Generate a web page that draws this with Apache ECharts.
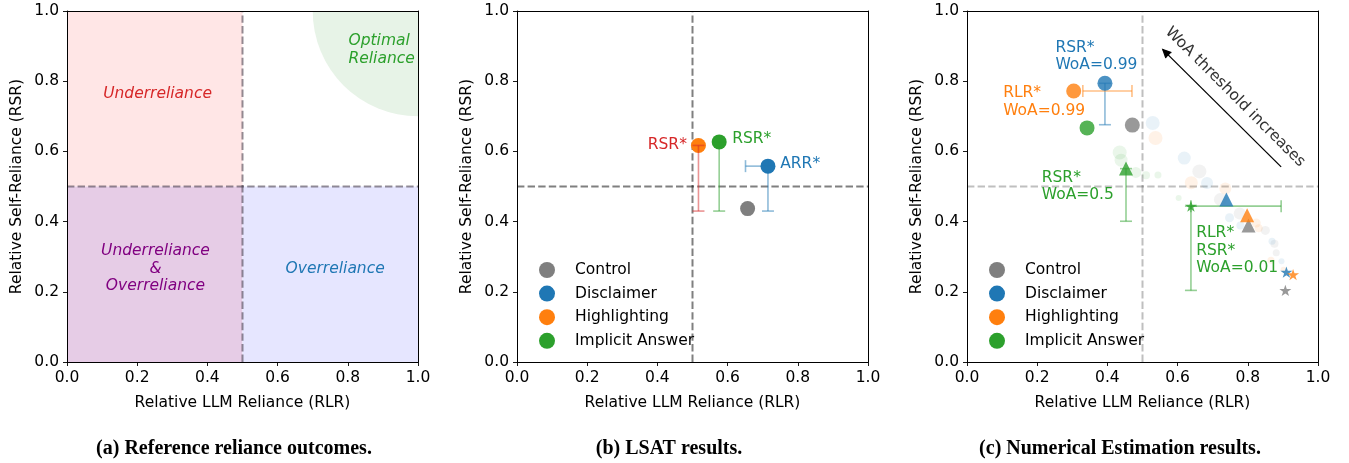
<!DOCTYPE html>
<html><head><meta charset="utf-8">
<script src="https://cdn.jsdelivr.net/npm/echarts@6/dist/echarts.min.js"></script>
<style>html,body{margin:0;padding:0;background:#fff}#c{width:1349px;height:463px}</style>
</head><body><div id="c"></div>
<script>
// ---------------- DATA ----------------
const treatments = ['Control', 'Disclaimer', 'Highlighting', 'Implicit Answer'];
const axisMin = 0, axisMax = 1, axisStep = 0.2;
const xTitle = 'Relative LLM Reliance (RLR)';
const yTitle = 'Relative Self-Reliance (RSR)';
const captions = ['(a) Reference reliance outcomes.', '(b) LSAT results.', '(c) Numerical Estimation results.'];

// (a) reference regions [x0, y0, x1, y1]
const refRegions = [[0, 0.5, 0.5, 1], [0, 0, 0.5, 0.5], [0.5, 0, 1, 0.5]];
const refOptimalCenter = [1, 1];
const refOptimalRadius = 0.3;
const refThreshold = 0.5;

// (b) LSAT results
const lsatRLR = [0.657, 0.715, 0.517, 0.576];
const lsatRSR = [0.437, 0.558, 0.617, 0.627];
const lsatErrBars = [[0.517, 0.617, 0.517, 0.430], [0.576, 0.627, 0.576, 0.430], [0.715, 0.558, 0.715, 0.430], [0.715, 0.558, 0.651, 0.558]];
const lsatErrTreatment = [2, 3, 1, 1];

// (c) Numerical estimation results
const numWoA99RLR = [0.471, 0.393, 0.304, 0.342];
const numWoA99RSR = [0.675, 0.794, 0.772, 0.667];
const numWoA50RLR = [0.802, 0.739, 0.798, 0.453];
const numWoA50RSR = [0.389, 0.463, 0.418, 0.551];
const numWoA01RLR = [0.907, 0.910, 0.929, 0.638];
const numWoA01RSR = [0.204, 0.256, 0.249, 0.444];
// other thresholds: [RLR, RSR, WoA threshold]
const numOtherControl = [[0.662, 0.543, 0.9], [0.722, 0.463, 0.8], [0.777, 0.423, 0.7], [0.850, 0.375, 0.4], [0.876, 0.337, 0.3], [0.881, 0.311, 0.2]];
const numOtherDisclaimer = [[0.529, 0.681, 0.9], [0.619, 0.581, 0.8], [0.684, 0.510, 0.7], [0.748, 0.411, 0.4], [0.779, 0.389, 0.3], [0.869, 0.344, 0.2], [0.896, 0.287, 0.1]];
const numOtherHighlighting = [[0.537, 0.638, 0.9], [0.639, 0.511, 0.8], [0.736, 0.494, 0.7], [0.824, 0.396, 0.4], [0.831, 0.381, 0.3], [0.866, 0.290, 0.2], [0.902, 0.263, 0.1]];
const numOtherImplicit = [[0.435, 0.597, 0.9], [0.439, 0.575, 0.8], [0.481, 0.540, 0.6], [0.510, 0.532, 0.3], [0.544, 0.533, 0.2], [0.603, 0.467, 0.1]];
const numErrBars = [[0.393, 0.794, 0.393, 0.676], [0.330, 0.772, 0.470, 0.772], [0.453, 0.551, 0.453, 0.401], [0.638, 0.444, 0.895, 0.444], [0.638, 0.444, 0.638, 0.204]];
const numErrTreatment = [1, 2, 3, 3, 3];
const numArrow = [[0.895, 0.556], [0.558, 0.890]];

// ---------------- STYLE ----------------
const FONT = '"DejaVu Sans", sans-serif';
const FS = 15.5;
const colors = ['#7f7f7f', '#1f77b4', '#ff7f0e', '#2ca02c'];
const rgbs = ['127,127,127', '31,119,180', '255,127,14', '44,160,44'];
const errColorsLsat = ['127,127,127', '31,119,180', '214,39,40', '44,160,44'];
const regionColors = ['#ffe6e6', '#e6cce6', '#e6e6ff'];
const gridLefts = [67, 517, 967];
const GT = 11, GW = 351, GH = 351;

// star path
function starPath() {
  let pts = [];
  for (let k = 0; k < 10; k++) {
    const r = k % 2 === 0 ? 1 : 0.382;
    const a = (90 + 36 * k) * Math.PI / 180;
    pts.push([(r * Math.cos(a)).toFixed(4), (-r * Math.sin(a)).toFixed(4)]);
  }
  return 'path://M' + pts.map(p => p[0] + ',' + p[1]).join('L') + 'Z';
}
const STAR = starPath();

const grids = gridLefts.map(l => ({left: l, top: GT, width: GW, height: GH, show: false}));
const xAxes = [], yAxes = [];
gridLefts.forEach((l, i) => {
  xAxes.push({
    type: 'value', gridIndex: i, min: axisMin, max: axisMax, interval: axisStep, z: 10,
    name: xTitle, nameLocation: 'middle', nameGap: 33,
    nameTextStyle: {fontFamily: FONT, fontSize: FS, color: '#000'},
    axisLine: {show: true, onZero: false, lineStyle: {color: '#000', width: 1}},
    axisTick: {show: true, length: 4, lineStyle: {color: '#000', width: 0.9}},
    axisLabel: {formatter: v => v.toFixed(1), fontFamily: FONT, fontSize: FS, color: '#000', margin: 8},
    splitLine: {show: false}
  });
  xAxes.push({
    type: 'value', gridIndex: i, min: axisMin, max: axisMax, position: 'top', z: 10,
    axisLine: {show: true, onZero: false, lineStyle: {color: '#000', width: 1}},
    axisTick: {show: false}, axisLabel: {show: false}, splitLine: {show: false}
  });
  yAxes.push({
    type: 'value', gridIndex: i, min: axisMin, max: axisMax, interval: axisStep, z: 10,
    name: yTitle, nameLocation: 'middle', nameGap: 42,
    nameTextStyle: {fontFamily: FONT, fontSize: FS, color: '#000'},
    axisLine: {show: true, onZero: false, lineStyle: {color: '#000', width: 1}},
    axisTick: {show: true, length: 4, lineStyle: {color: '#000', width: 0.9}},
    axisLabel: {formatter: v => v.toFixed(1), fontFamily: FONT, fontSize: FS, color: '#000', margin: 8},
    splitLine: {show: false}
  });
  yAxes.push({
    type: 'value', gridIndex: i, min: axisMin, max: axisMax, position: 'right', z: 10,
    axisLine: {show: true, onZero: false, lineStyle: {color: '#000', width: 1}},
    axisTick: {show: false}, axisLabel: {show: false}, splitLine: {show: false}
  });
});

function ax(gi) { return {xAxisIndex: 2 * gi, yAxisIndex: 2 * gi}; }

function segSeries(gi, segs, stroke, dash, z) {
  return Object.assign({
    type: 'custom', silent: true, z: z, data: segs, encode: {x: [0, 2], y: [1, 3]},
    renderItem: (params, api) => {
      const s = segs[params.dataIndex];
      const p1 = api.coord([s[0], s[1]]), p2 = api.coord([s[2], s[3]]);
      return {type: 'line', shape: {x1: p1[0], y1: p1[1], x2: p2[0], y2: p2[1]},
        style: {stroke: stroke, lineWidth: 2, lineDash: dash}};
    }
  }, ax(gi));
}

function errSeries(gi, bars, barColors, z) {
  const cap = 6;
  return Object.assign({
    type: 'custom', silent: true, z: z, data: bars, encode: {x: [0, 2], y: [1, 3]},
    renderItem: (params, api) => {
      const b = bars[params.dataIndex];
      const p1 = api.coord([b[0], b[1]]), p2 = api.coord([b[2], b[3]]);
      const dx = p2[0] - p1[0], dy = p2[1] - p1[1], L = Math.hypot(dx, dy) || 1;
      const nx = -dy / L * cap, ny = dx / L * cap;
      const st = {stroke: 'rgba(' + barColors[params.dataIndex] + ',0.5)', lineWidth: 1.6};
      return {type: 'group', children: [
        {type: 'line', shape: {x1: p1[0], y1: p1[1], x2: p2[0], y2: p2[1]}, style: st},
        {type: 'line', shape: {x1: p1[0] - nx, y1: p1[1] - ny, x2: p1[0] + nx, y2: p1[1] + ny}, style: st},
        {type: 'line', shape: {x1: p2[0] - nx, y1: p2[1] - ny, x2: p2[0] + nx, y2: p2[1] + ny}, style: st}
      ]};
    }
  }, ax(gi));
}

function textSeries(gi, items) {
  return Object.assign({
    type: 'custom', silent: true, z: 30, data: items.map(it => [it.x, it.y]),
    renderItem: (params, api) => {
      const it = items[params.dataIndex];
      const p = api.coord([it.x, it.y]);
      return {type: 'text', x: p[0], y: p[1], rotation: it.rot || 0,
        style: {text: it.text, fill: it.color, fontFamily: FONT, fontSize: FS,
          fontStyle: it.italic ? 'italic' : 'normal', align: it.align || 'center',
          verticalAlign: 'middle', lineHeight: 17.5}};
    }
  }, ax(gi));
}

const series = [];

// ---------- (a) ----------
series.push(Object.assign({
  type: 'custom', silent: true, z: 1, data: refRegions, encode: {x: [0, 2], y: [1, 3]},
  renderItem: (params, api) => {
    const r = refRegions[params.dataIndex];
    const p1 = api.coord([r[0], r[3]]), p2 = api.coord([r[2], r[1]]);
    return {type: 'rect', shape: {x: p1[0], y: p1[1], width: p2[0] - p1[0], height: p2[1] - p1[1]},
      style: {fill: regionColors[params.dataIndex]}};
  }
}, ax(0)));
series.push(Object.assign({
  type: 'custom', silent: true, z: 1, data: [refOptimalCenter],
  renderItem: (params, api) => {
    const c = api.coord(refOptimalCenter);
    const r = api.size([refOptimalRadius, 0])[0];
    return {type: 'sector', shape: {cx: c[0], cy: c[1], r: r, r0: 0, startAngle: Math.PI / 2, endAngle: Math.PI, clockwise: true},
      style: {fill: '#e7f3e7'}};
  }
}, ax(0)));
series.push(segSeries(0, [[refThreshold, 0, refThreshold, 1], [0, refThreshold, 1, refThreshold]], 'rgba(40,30,45,0.5)', [7.4, 3.2], 5));
series.push(textSeries(0, [
  {x: 0.258, y: 0.765, text: 'Underreliance', color: '#d62728', italic: true},
  {x: 0.802, y: 0.889, text: 'Optimal\nReliance', color: '#2ca02c', italic: true, align: 'left'},
  {x: 0.252, y: 0.266, text: 'Underreliance\n&\nOverreliance', color: '#800080', italic: true},
  {x: 0.764, y: 0.266, text: 'Overreliance', color: '#1f77b4', italic: true}
]));

// ---------- (b) ----------
series.push(segSeries(1, [[0.5, 0, 0.5, 1], [0, 0.5, 1, 0.5]], 'rgba(0,0,0,0.5)', [7.4, 3.2], 3));
treatments.forEach((t, i) => {
  series.push(Object.assign({
    type: 'scatter', name: t, z: 6, symbol: 'circle', symbolSize: 15,
    itemStyle: {color: colors[i], opacity: 1},
    data: [[lsatRLR[i], lsatRSR[i]]]
  }, ax(1)));
});
series.push(errSeries(1, lsatErrBars, lsatErrTreatment.map(k => errColorsLsat[k]), 8));
series.push(textSeries(1, [
  {x: 0.484, y: 0.617, text: 'RSR*', color: '#d62728', align: 'right'},
  {x: 0.613, y: 0.634, text: 'RSR*', color: '#2ca02c', align: 'left'},
  {x: 0.750, y: 0.565, text: 'ARR*', color: '#1f77b4', align: 'left'}
]));

// ---------- (c) ----------
series.push(segSeries(2, [[0.5, 0, 0.5, 1], [0, 0.5, 1, 0.5]], 'rgba(0,0,0,0.25)', [7.4, 3.2], 3));
const numOthers = [numOtherControl, numOtherDisclaimer, numOtherHighlighting, numOtherImplicit];
numOthers.forEach((arr, i) => {
  series.push(Object.assign({
    type: 'scatter', name: treatments[i] + ' other', z: 4, symbol: 'circle',
    symbolSize: d => 5 + 10 * d[2],
    itemStyle: {color: 'rgba(' + rgbs[i] + ',0.12)'},
    data: arr
  }, ax(2)));
});
series.push(errSeries(2, numErrBars, numErrTreatment.map(k => rgbs[k]), 5));
treatments.forEach((t, i) => {
  series.push(Object.assign({
    type: 'scatter', name: t + ' WoA=0.99', z: 7, symbol: 'circle', symbolSize: 15,
    itemStyle: {color: colors[i]}, data: [[numWoA99RLR[i], numWoA99RSR[i]]]
  }, ax(2)));
  series.push(Object.assign({
    type: 'scatter', name: t + ' WoA=0.5', z: 7, symbol: 'triangle', symbolSize: 14,
    itemStyle: {color: colors[i]}, data: [[numWoA50RLR[i], numWoA50RSR[i]]]
  }, ax(2)));
  series.push(Object.assign({
    type: 'scatter', name: t + ' WoA=0.01', z: 7, symbol: STAR, symbolSize: 12, symbolKeepAspect: true,
    itemStyle: {color: colors[i]}, data: [[numWoA01RLR[i], numWoA01RSR[i]]]
  }, ax(2)));
});
series.push(Object.assign({
  type: 'custom', silent: true, z: 9, data: [[numArrow[0][0], numArrow[0][1], numArrow[1][0], numArrow[1][1]]],
  encode: {x: [0, 2], y: [1, 3]},
  renderItem: (params, api) => {
    const p1 = api.coord(numArrow[0]), p2 = api.coord(numArrow[1]);
    const a = Math.atan2(p2[1] - p1[1], p2[0] - p1[0]);
    const h = 9, w = 0.45;
    const st = {stroke: '#000', lineWidth: 1.3};
    return {type: 'group', children: [
      {type: 'line', shape: {x1: p1[0], y1: p1[1], x2: p2[0], y2: p2[1]}, style: st},
      {type: 'polyline', shape: {points: [
        [p2[0] - h * Math.cos(a - w), p2[1] - h * Math.sin(a - w)], p2,
        [p2[0] - h * Math.cos(a + w), p2[1] - h * Math.sin(a + w)]]}, style: st}
    ]};
  }
}, ax(2)));
series.push(textSeries(2, [
  {x: 0.252, y: 0.870, text: 'RSR*\nWoA=0.99', color: '#1f77b4', align: 'left'},
  {x: 0.103, y: 0.741, text: 'RLR*\nWoA=0.99', color: '#ff7f0e', align: 'left'},
  {x: 0.213, y: 0.500, text: 'RSR*\nWoA=0.5', color: '#2ca02c', align: 'left'},
  {x: 0.653, y: 0.317, text: 'RLR*\nRSR*\nWoA=0.01', color: '#2ca02c', align: 'left'},
  {x: 0.764, y: 0.755, text: 'WoA threshold increases', color: '#333', rot: -Math.PI / 4}
]));

const legendBase = {
  orient: 'vertical', icon: 'circle', itemWidth: 46, itemHeight: 16, itemGap: 7.6, padding: 0,
  selectedMode: false, data: treatments,
  textStyle: {fontFamily: FONT, fontSize: FS, color: '#000', lineHeight: 16}
};

const capFont = 'bold 20px "Liberation Serif", serif';
const option = {
  animation: false,
  backgroundColor: '#fff',
  grid: grids,
  xAxis: xAxes,
  yAxis: yAxes,
  legend: [
    Object.assign({left: 539, top: 262}, legendBase),
    Object.assign({left: 989, top: 262}, legendBase)
  ],
  series: series,
  graphic: [
    {type: 'text', x: 234, y: 449, style: {text: captions[0], font: capFont, align: 'center', verticalAlign: 'middle', fill: '#000'}},
    {type: 'text', x: 669, y: 449, style: {text: captions[1], font: capFont, align: 'center', verticalAlign: 'middle', fill: '#000'}},
    {type: 'text', x: 1120, y: 449, style: {text: captions[2], font: capFont, align: 'center', verticalAlign: 'middle', fill: '#000'}}
  ]
};
const chart = echarts.init(document.getElementById('c'), null, {renderer: 'canvas'});
chart.setOption(option);
</script></body></html>
